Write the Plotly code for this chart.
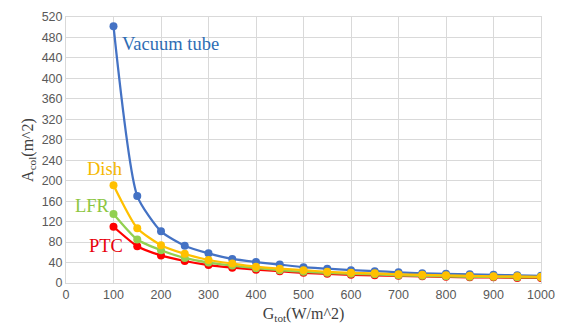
import plotly.graph_objects as go

g_tot = [100, 150, 200, 250, 300, 350, 400, 450, 500, 550, 600, 650, 700, 750, 800, 850, 900, 950, 1000]
vacuum_tube = [502, 170, 101, 73, 58, 47, 41, 36, 31, 28, 25, 23, 21, 19, 18, 17, 16, 15, 14]
ptc = [110, 72, 54, 43, 35, 30, 26, 23, 20, 18, 16, 15, 14, 13, 12, 11, 11, 10, 10]
lfr = [135, 85, 64, 49, 40, 34, 29, 25, 22, 20, 18, 17, 15, 14, 13, 12, 12, 11, 11]
dish = [191, 107, 74, 57, 45, 38, 32, 28, 25, 22, 20, 19, 17, 16, 15, 14, 13, 13, 12]

series = [
    ("Vacuum tube", vacuum_tube, "#4472C4"),
    ("PTC", ptc, "#FF0000"),
    ("LFR", lfr, "#92D050"),
    ("Dish", dish, "#FFC000"),
]

fig = go.Figure()
for name, vals, color in series:
    fig.add_trace(go.Scatter(
        x=g_tot, y=vals, name=name, mode="lines+markers",
        line=dict(color=color, width=2.25, shape="spline", smoothing=0.6),
        marker=dict(color=color, size=8),
        showlegend=False,
    ))

serif = "Times New Roman, Liberation Serif, serif"
labels = [
    ("Vacuum tube", 113, 468, "#2E6DB4", "left"),
    ("Dish", 80, 222, "#F5B800", "center"),
    ("LFR", 56, 150, "#8CC63F", "center"),
    ("PTC", 84, 72, "#E8000B", "center"),
]
for text, x, y, color, anchor in labels:
    fig.add_annotation(x=x, y=y, text=text, showarrow=False, xanchor=anchor,
                       font=dict(family=serif, size=18.5, color=color))

tick_font = dict(family="Liberation Sans", size=12.5, color="#595959")
fig.update_layout(
    width=565, height=335,
    margin=dict(l=66, r=18, t=10, b=52),
    paper_bgcolor="white", plot_bgcolor="white",
    xaxis=dict(range=[0, 1000], dtick=100, tick0=0, showgrid=True, gridcolor="#D9D9D9",
               gridwidth=1, zeroline=False, showline=True, linecolor="#D9D9D9",
               mirror=True, tickfont=tick_font, ticks="",
               title=dict(text="G<sub>tot</sub>(W/m^2)", standoff=6,
                          font=dict(family=serif, size=16, color="#404040"))),
    yaxis=dict(range=[0, 520], dtick=40, tick0=0, showgrid=True, gridcolor="#D9D9D9",
               gridwidth=1, zeroline=False, showline=True, linecolor="#D9D9D9",
               mirror=True, tickfont=tick_font, ticks="",
               title=dict(text="A<sub>col</sub>(m^2)", standoff=4,
                          font=dict(family=serif, size=16, color="#404040"))),
)

fig.write_html("out.html")
